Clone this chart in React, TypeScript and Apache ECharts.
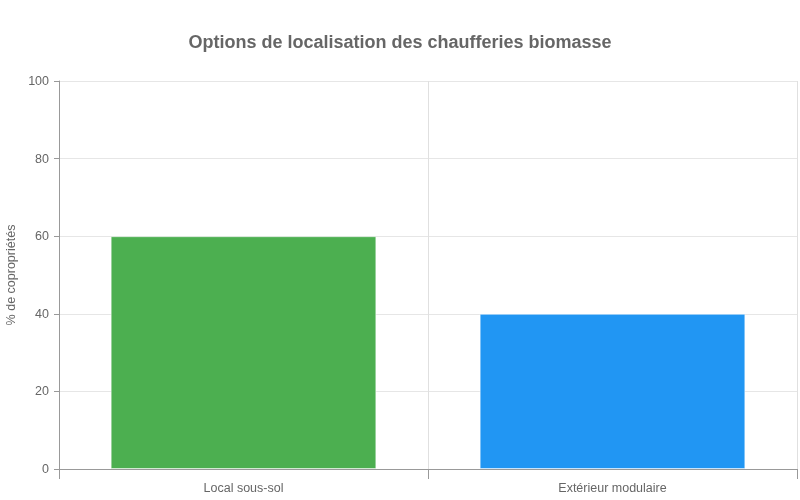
import * as echarts from 'echarts';
import React, { useEffect, useRef } from 'react';

const categories = ['Local sous-sol', 'Extérieur modulaire'];
const values = [60, 40];
const barColors = ['#4CAF50', '#2196F3'];

const App: React.FC = () => {
  const chartRef = useRef<HTMLDivElement>(null);

  useEffect(() => {
    const myChart = echarts.init(chartRef.current!, undefined, { renderer: 'svg' });

    const option = {
      animation: false,
      textStyle: { fontFamily: 'Liberation Sans, Arial, sans-serif' },
      title: {
        text: 'Options de localisation des chaufferies biomasse',
        left: 'center',
        top: 28,
        textStyle: { fontSize: 18, fontWeight: 'bold', color: '#666666' },
      },
      grid: { left: 59, right: 3, top: 81, bottom: 31, outerBoundsMode: 'none' },
      xAxis: {
        type: 'category',
        data: categories,
        axisLine: { lineStyle: { color: '#999999' } },
        axisTick: { show: true, length: 10, lineStyle: { color: '#999999' } },
        axisLabel: { color: '#666666', fontSize: 12.5, margin: 12 },
        splitLine: { show: true, lineStyle: { color: '#e0e0e0' } },
      },
      yAxis: {
        type: 'value',
        min: 0,
        max: 100,
        interval: 20,
        name: '% de copropriétés',
        nameLocation: 'middle',
        nameGap: 41,
        nameRotate: 90,
        nameTextStyle: { color: '#666666', fontSize: 12.5 },
        axisLine: { show: true, lineStyle: { color: '#999999' } },
        axisTick: { show: true, length: 5, lineStyle: { color: '#999999' } },
        axisLabel: { color: '#666666', fontSize: 12.5, margin: 10 },
        splitLine: { show: true, lineStyle: { color: '#e6e6e6' } },
      },
      series: [
        {
          type: 'bar',
          barWidth: '72%',
          data: values.map((v, i) => ({
            value: v,
            itemStyle: { color: barColors[i], borderColor: 'rgba(255,255,255,0.5)', borderWidth: 1 },
          })),
        },
      ],
    };

    myChart.setOption(option);

    return () => {
      myChart.dispose();
    };
  }, []);

  return (
    <div
      ref={chartRef}
      style={{ position: 'fixed', left: 0, top: 0, width: '800px', height: '500px' }}
    />
  );
};

export default App;
